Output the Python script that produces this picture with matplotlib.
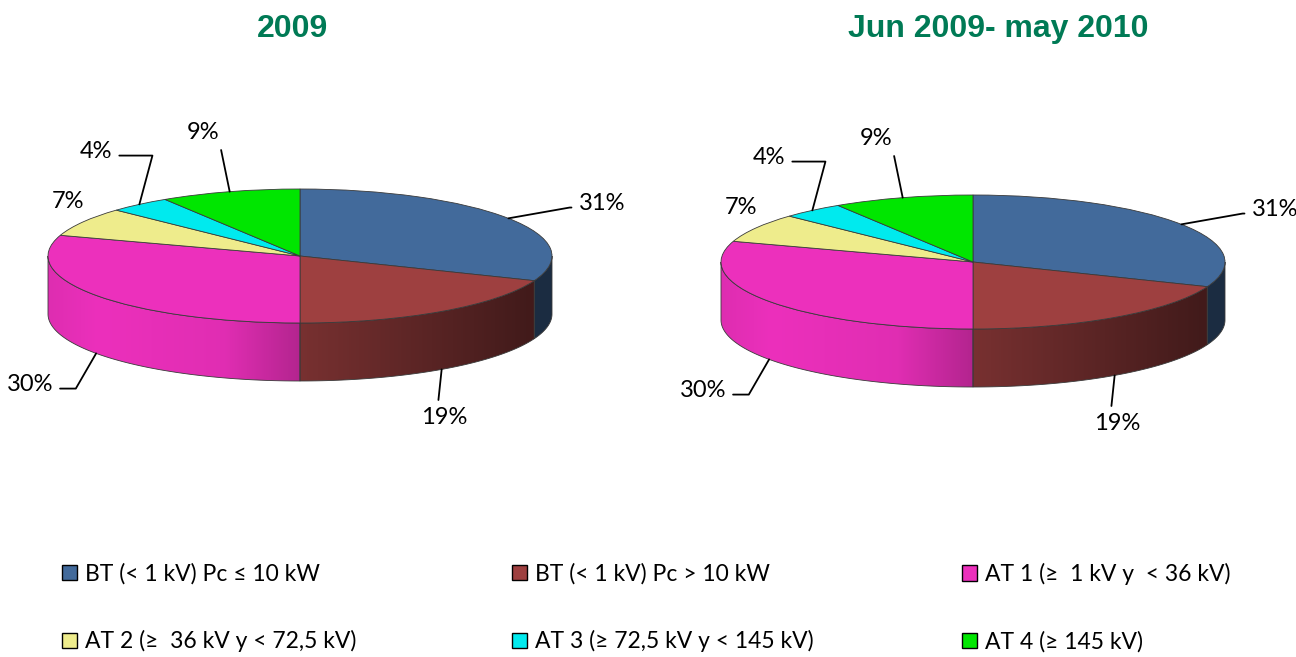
import numpy as np
import matplotlib.pyplot as plt
from matplotlib.patches import Polygon, Patch

# data
categories = ['BT (< 1 kV) Pc ≤ 10 kW', 'BT (< 1 kV) Pc > 10 kW', 'AT 1 (≥  1 kV y  < 36 kV)',
              'AT 2 (≥  36 kV y < 72,5 kV)', 'AT 3 (≥ 72,5 kV y < 145 kV)', 'AT 4 (≥ 145 kV)']
values_2009 = [31, 19, 30, 7, 4, 9]
values_jun09_may10 = [31, 19, 30, 7, 4, 9]
titles = ['2009', 'Jun 2009- may 2010']
colors = ['#426A9B', '#9E4040', '#EC30BC', '#EEEC8C', '#00EAEE', '#00E600']

W, H = 1296, 657
A, B, DEPTH = 252, 67, 58          # ellipse half-width, half-height, side depth (px)
D = DEPTH / B                      # depth in data units
LABEL_FONT = ['Lato', 'DejaVu Sans']
TITLE_COLOR = '#007A55'

# label layout per slice: offset px, ha, relpos, connection (None = no leader)
label_style = [
    dict(off=(70, 15), ha='left', rel=(0, 0.3), conn='angle,angleA=0,angleB=10,rad=0'),
    dict(off=(3, -48), ha='center', rel=(0.35, 1), conn='arc3'),
    dict(off=(-43, -31), ha='right', rel=(1, 0.3), conn='angle,angleA=0,angleB=60,rad=0'),
    dict(off=(-15, 20), ha='center', rel=(0.5, 0.5), conn=None),
    dict(off=(-27, 53), ha='right', rel=(1, 0.3), conn='angle,angleA=0,angleB=75,rad=0'),
    dict(off=(-10, 59), ha='right', rel=(1, 0.0), conn='arc3'),
]


def shade(x):
    return np.interp(x, [-1, -0.8, -0.3, 0, 0.9, 1], [0.94, 1.0, 0.95, 0.76, 0.42, 0.42])


def draw_pie(fig, cx, cy, tx, values, title):
    ax = fig.add_axes([(cx - 1.1 * A) / W, 1 - (cy + 2.3 * B) / H, 2.2 * A / W, 3.8 * B / H])
    ax.pie(values, colors=colors, startangle=90, counterclock=False, radius=1,
           wedgeprops=dict(edgecolor='#3a3a3a', linewidth=0.6, zorder=3))

    bounds = 90 - 360 * np.cumsum([0] + values) / sum(values)
    for i, c in enumerate(colors):
        hi, lo = bounds[i], bounds[i + 1]
        lo2, hi2 = max(lo, -180), min(hi, 0)
        if lo2 >= hi2:
            continue
        t = np.radians(np.linspace(lo2, hi2, 80))
        top = np.column_stack([np.cos(t), np.sin(t)])
        bot = np.column_stack([np.cos(t), np.sin(t) - D])[::-1]
        poly = Polygon(np.vstack([top, bot]), closed=True, facecolor='none',
                       edgecolor='#3a3a3a', linewidth=0.6, zorder=2)
        ax.add_patch(poly)
        xs = np.linspace(top[:, 0].min(), top[:, 0].max(), 300)
        base = np.array(plt.matplotlib.colors.to_rgb(c))
        img = np.clip(base[None, :] * shade(xs)[:, None], 0, 1)[None, :, :]
        im = ax.imshow(img, extent=[xs[0], xs[-1], top[:, 1].min() - D, top[:, 1].max()],
                       aspect='auto', zorder=1.5, interpolation='bilinear')
        im.set_clip_path(poly)

    # percentage labels
    for i, v in enumerate(values):
        m = np.radians((bounds[i] + bounds[i + 1]) / 2)
        x, y = np.cos(m), np.sin(m)
        if y < 0:
            y -= D
        st = label_style[i]
        arrow = None
        if st['conn']:
            arrow = dict(arrowstyle='-', color='black', lw=1.3, shrinkA=3, shrinkB=0,
                         relpos=st['rel'], connectionstyle=st['conn'])
        ax.annotate(f'{v}%', xy=(x, y), xytext=st['off'], textcoords='offset pixels',
                    ha=st['ha'], va='center', fontsize=17, family=LABEL_FONT,
                    arrowprops=arrow, annotation_clip=False)

    ax.set_aspect('auto')
    ax.set_xlim(-1.1, 1.1)
    ax.set_ylim(-2.3, 1.5)
    ax.axis('off')
    fig.text(tx / W, 1 - 29 / H, title, ha='center', va='center', fontsize=23,
             fontweight='bold', color=TITLE_COLOR, family='Liberation Sans')


fig = plt.figure(figsize=(W / 100, H / 100), dpi=100)
draw_pie(fig, 300, 256, 292, values_2009, titles[0])
draw_pie(fig, 973, 262, 998, values_jun09_may10, titles[1])

# legend: three columns, two rows
handles = [Patch(facecolor=c, edgecolor='black', linewidth=1) for c in colors]
for col, x0 in enumerate([62, 512, 962]):
    idx = [col, col + 3]
    fig.legend([handles[k] for k in idx], [categories[k] for k in idx],
               loc='upper left', bbox_to_anchor=(x0 / W, 1 - 563 / H), frameon=False,
               borderpad=0, borderaxespad=0, handlelength=0.65, handleheight=0.65,
               handletextpad=0.35, labelspacing=2.0,
               prop=dict(family=LABEL_FONT, size=16.5))

fig.savefig('out.png', dpi=100)
